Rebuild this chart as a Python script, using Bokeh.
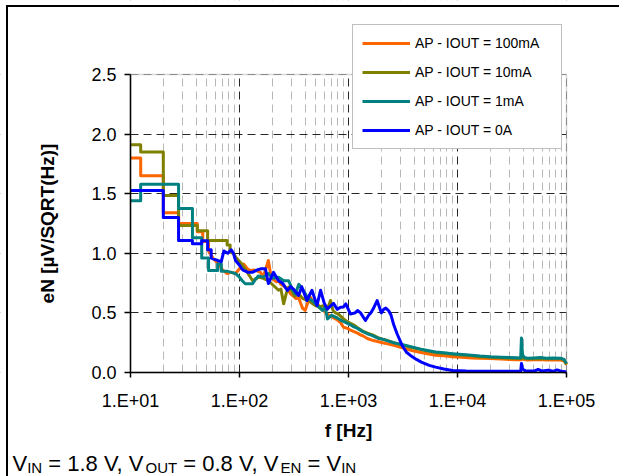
from bokeh.plotting import figure
from bokeh.models import (Range1d, FixedTicker, NumeralTickFormatter, CustomJSTickFormatter,
                          Legend, LegendItem, Label, BoxAnnotation)
from bokeh.embed import file_html
from bokeh.resources import INLINE

FONT = "Liberation Sans"

# ---------------- data (frequency [Hz], eN [uV/sqrt(Hz)]) ----------------
series_names = ["AP - IOUT = 100mA", "AP - IOUT = 10mA", "AP - IOUT = 1mA", "AP - IOUT = 0A"]
series_colors = ["#FF6600", "#808000", "#008080", "#0000FF"]

iout_100mA = [(10, 1.80), (12.4, 1.80), (12.4, 1.65), (20, 1.65), (20, 1.34), (27.6, 1.34), (27.6, 1.25),
              (41, 1.25), (41, 1.18), (46, 1.18), (46, 1.10), (52, 1.10), (52, 1.02), (58, 0.95), (63, 0.92),
              (70, 0.86), (77, 0.83), (84, 0.84), (92, 0.83), (100, 0.87), (109, 0.91), (118, 0.87),
              (126, 0.855), (136, 0.86), (146, 0.85), (156, 0.84), (165, 0.80), (173, 0.86), (184, 0.94),
              (195, 0.80), (205, 0.78), (218, 0.76), (228, 0.77), (240, 0.74), (260, 0.72), (276, 0.70),
              (294, 0.66), (313, 0.64), (330, 0.62), (348, 0.63), (364, 0.58), (379, 0.54), (400, 0.52),
              (421, 0.58), (448, 0.63), (468, 0.60), (495, 0.57), (520, 0.576), (553, 0.54), (590, 0.52),
              (642, 0.49), (684, 0.47), (728, 0.46), (790, 0.44), (845, 0.42), (900, 0.38), (980, 0.37),
              (1043, 0.355), (1110, 0.345), (1210, 0.33), (1290, 0.315), (1340, 0.31), (1490, 0.285),
              (1660, 0.27), (1845, 0.26), (2050, 0.25), (2280, 0.24), (2590, 0.228), (2900, 0.215),
              (3300, 0.20), (3800, 0.185), (4500, 0.17), (5300, 0.158), (6300, 0.145), (7500, 0.14),
              (9000, 0.132), (11000, 0.127), (13500, 0.122), (16000, 0.12), (20000, 0.117), (25000, 0.113),
              (30000, 0.11), (35000, 0.108), (38000, 0.107), (38600, 0.115), (40000, 0.11), (43900, 0.105),
              (50000, 0.106), (57700, 0.108), (65000, 0.105), (75000, 0.106), (88000, 0.104), (95000, 0.098),
              (100000, 0.065)]

iout_10mA = [(10, 1.91), (12.4, 1.91), (12.4, 1.85), (20, 1.85), (20, 1.485), (27.6, 1.485), (27.6, 1.233),
             (41, 1.233), (41, 1.19), (51, 1.19), (51, 1.107), (77, 1.107), (77, 1.07), (82, 1.07), (82, 1.01),
             (88, 1.0), (92, 0.97), (105, 0.91), (118, 0.84), (132, 0.77), (149, 0.80), (165, 0.79),
             (184, 0.77), (205, 0.73), (228, 0.69), (240, 0.70), (254, 0.576), (268, 0.66), (282, 0.716),
             (300, 0.69), (320, 0.64), (348, 0.66), (380, 0.62), (430, 0.604), (480, 0.57), (530, 0.55),
             (590, 0.56), (640, 0.53), (684, 0.604), (720, 0.52), (760, 0.50), (810, 0.49), (900, 0.45),
             (1000, 0.42), (1110, 0.40), (1210, 0.375), (1340, 0.35), (1490, 0.33), (1660, 0.315),
             (1845, 0.295), (2050, 0.28), (2280, 0.268), (2590, 0.25), (2900, 0.238), (3300, 0.225),
             (3800, 0.21), (4500, 0.195), (5300, 0.18), (6300, 0.168), (7500, 0.16), (9000, 0.152),
             (11000, 0.146), (13500, 0.14), (16000, 0.133), (20000, 0.127), (25000, 0.123), (30000, 0.12),
             (35000, 0.118), (38000, 0.117), (38600, 0.13), (40000, 0.12), (44000, 0.115), (50000, 0.115),
             (57700, 0.118), (65000, 0.115), (75000, 0.117), (88000, 0.115), (95000, 0.105), (100000, 0.07)]

iout_1mA = [(10, 1.44), (12.4, 1.44), (12.4, 1.58), (27.6, 1.58), (27.6, 1.375), (37, 1.375), (37, 1.13),
            (45, 1.13), (45, 0.96), (52, 0.96), (52, 0.855), (63, 0.855), (63, 0.91), (68, 0.91), (68, 0.85),
            (77, 0.85), (84, 0.84), (92, 0.83), (100, 0.80), (106, 0.77), (113, 0.745), (132, 0.745),
            (140, 0.78), (149, 0.81), (165, 0.80), (184, 0.83), (205, 0.79), (228, 0.80), (255, 0.77),
            (282, 0.77), (305, 0.70), (326, 0.66), (350, 0.74), (379, 0.70), (420, 0.63), (468, 0.60),
            (520, 0.56), (577, 0.52), (610, 0.55), (642, 0.45), (700, 0.48), (760, 0.465), (845, 0.44),
            (938, 0.42), (1043, 0.40), (1110, 0.385), (1210, 0.37), (1340, 0.345), (1490, 0.325),
            (1660, 0.31), (1900, 0.285), (2050, 0.28), (2300, 0.265), (2600, 0.25), (2900, 0.24),
            (3300, 0.228), (3800, 0.215), (4500, 0.198), (5300, 0.185), (6300, 0.172), (7500, 0.165),
            (9000, 0.158), (11000, 0.151), (13500, 0.145), (16000, 0.138), (20000, 0.132), (25000, 0.128),
            (30000, 0.125), (35000, 0.123), (38000, 0.122), (38600, 0.29), (39500, 0.15), (41000, 0.125),
            (44000, 0.12), (50000, 0.122), (57700, 0.125), (65000, 0.12), (75000, 0.122), (88000, 0.12),
            (95000, 0.11), (100000, 0.075)]

iout_0A = [(10, 1.527), (20, 1.527), (20, 1.30), (27.6, 1.30), (27.6, 1.107), (37, 1.107), (37, 1.08),
           (45, 1.08), (45, 1.106), (51, 1.106), (51, 1.03), (55, 1.03), (55, 0.96), (63, 0.94), (68, 0.93),
           (72, 1.02), (78, 1.0), (84, 1.03), (88, 1.0), (92, 0.94), (100, 0.90), (105, 0.87), (109, 0.856),
           (120, 0.84), (131, 0.84), (145, 0.86), (156, 0.87), (173, 0.87), (184, 0.746), (205, 0.84),
           (228, 0.77), (250, 0.746), (275, 0.688), (294, 0.72), (313, 0.70), (348, 0.646), (372, 0.72),
           (415, 0.604), (462, 0.69), (514, 0.562), (554, 0.69), (600, 0.58), (640, 0.534), (728, 0.58),
           (790, 0.53), (845, 0.548), (900, 0.55), (945, 0.576), (1043, 0.49), (1150, 0.50), (1210, 0.52),
           (1290, 0.50), (1430, 0.436), (1530, 0.48), (1600, 0.50), (1700, 0.54), (1830, 0.604),
           (1920, 0.55), (2000, 0.50), (2100, 0.53), (2200, 0.54), (2330, 0.52), (2460, 0.48), (2600, 0.40),
           (2790, 0.325), (3110, 0.226), (3400, 0.17), (3700, 0.143), (4200, 0.11), (4660, 0.087),
           (5500, 0.06), (6300, 0.045), (7500, 0.03), (8980, 0.017), (12000, 0.012), (20000, 0.01),
           (30000, 0.01), (38000, 0.01), (38600, 0.075), (39500, 0.03), (42000, 0.015), (50000, 0.012),
           (55000, 0.025), (60000, 0.012), (68000, 0.02), (75000, 0.01), (82000, 0.022), (90000, 0.01),
           (100000, 0.005)]

x_major_ticks = [10, 100, 1000, 10000, 100000]
x_minor_ticks = [m * d for d in (10, 100, 1000, 10000) for m in range(2, 10)]
y_ticks = [0.0, 0.5, 1.0, 1.5, 2.0, 2.5]
X_MIN, X_MAX = 10, 100000
Y_MIN, Y_MAX = 0.0, 2.5

x_title = "f [Hz]"
y_title = "eN [\u00b5V/SQRT(Hz)]"

# condition note: V_IN = 1.8 V, V_OUT = 0.8 V, V_EN = V_IN  (text, is_subscript, space_before)
note_parts = [("V", False, False), ("IN", True, False), ("= 1.8 V, V", False, True), ("OUT", True, False),
              ("= 0.8 V, V", False, True), ("EN", True, False), ("= V", False, True), ("IN", True, False)]

# ---------------- layout geometry (pixels on the canvas) ----------------
W, H = 619, 476
PL, PR, PT, PB = 130, 566, 74, 372           # plot area edges
px_per_decade = (PR - PL) / 4.0
px_per_unit = (PB - PT) / (Y_MAX - Y_MIN)
x_lo = 10 ** (1 - PL / px_per_decade)
x_hi = 10 ** (5 + (W - PR) / px_per_decade)
y_lo = Y_MIN - (H - PB) / px_per_unit
y_hi = Y_MAX + PT / px_per_unit

# the frame spans the whole canvas; axes sit at fixed locations inside it
p = figure(width=W, height=H, x_axis_type="log",
           x_range=Range1d(x_lo, x_hi), y_range=Range1d(y_lo, y_hi),
           output_backend="svg", toolbar_location=None,
           min_border=0, min_border_left=0, min_border_right=0, min_border_top=0, min_border_bottom=0)
p.background_fill_color = "white"
p.border_fill_color = "white"
p.outline_line_color = None

p.xaxis.ticker = FixedTicker(ticks=x_major_ticks, minor_ticks=x_minor_ticks)
p.xaxis.formatter = CustomJSTickFormatter(
    code="return '1.E+' + String(Math.round(Math.log10(tick))).padStart(2, '0');")
p.yaxis.ticker = FixedTicker(ticks=y_ticks)
p.yaxis.formatter = NumeralTickFormatter(format="0.0")
p.xaxis.bounds = (X_MIN, X_MAX)
p.yaxis.bounds = (Y_MIN, Y_MAX)
p.xaxis.fixed_location = Y_MIN
p.yaxis.fixed_location = X_MIN

for ax in (p.xaxis, p.yaxis):
    ax.axis_line_color = "black"
    ax.axis_line_width = 1.5
    ax.major_tick_line_color = "black"
    ax.major_tick_line_width = 1.5
    ax.major_tick_in = 0
    ax.minor_tick_line_color = None
    ax.major_label_text_font = FONT
    ax.major_label_text_font_size = "18px"
    ax.major_label_text_color = "black"
    ax.axis_label_text_font = FONT
    ax.axis_label_text_font_style = "bold"
    ax.axis_label_text_font_size = "19px"
    ax.axis_label_text_color = "black"

p.xaxis.major_tick_out = 5
p.xaxis.major_label_standoff = 13
p.xaxis.axis_label = x_title
p.xaxis.axis_label_standoff = 6
p.yaxis.major_tick_out = 6
p.yaxis.major_label_standoff = 8
p.yaxis.axis_label = y_title
p.yaxis.axis_label_standoff = 30

p.xgrid.grid_line_color = "black"
p.xgrid.grid_line_alpha = 0.85
p.xgrid.grid_line_dash = "8 5"
p.xgrid.minor_grid_line_color = "#b8b8b8"
p.xgrid.minor_grid_line_dash = "8 5"
p.ygrid.grid_line_color = "black"
p.ygrid.grid_line_alpha = 0.85
p.ygrid.grid_line_dash = "8 5"

# keep the grid inside the plot area: white masks outside it, then the grey plot-area border
for kw in (dict(top=Y_MIN), dict(bottom=Y_MAX), dict(right=X_MIN), dict(left=X_MAX)):
    p.add_layout(BoxAnnotation(level="underlay", fill_color="white", fill_alpha=1.0,
                               line_color=None, **kw))
p.add_layout(BoxAnnotation(level="underlay", left=X_MIN, right=X_MAX, bottom=Y_MIN, top=Y_MAX,
                           fill_alpha=0, line_color="#808080", line_width=1.5))

items = []
for name, color, data in zip(series_names, series_colors, [iout_100mA, iout_10mA, iout_1mA, iout_0A]):
    f = [d[0] for d in data]
    v = [d[1] for d in data]
    r = p.line(f, v, line_color=color, line_width=3, line_join="round")
    items.append(LegendItem(label=name, renderers=[r]))

# legend box: left 352, top 26, bottom 149 (canvas pixels)
legend = Legend(items=items, location=(352, H - 149), orientation="vertical",
                padding=9, spacing=11, margin=0,
                glyph_width=48, glyph_height=18, label_height=18, label_width=137, label_standoff=5,
                label_text_font=FONT, label_text_font_size="14px", label_text_color="black",
                border_line_color="#808080", border_line_width=1.5,
                background_fill_color="white", background_fill_alpha=1.0)
p.add_layout(legend, "center")

# outer document frame lines (top and left)
p.add_layout(BoxAnnotation(left=5.5, right=W, top=H - 4.5, bottom=H - 6.5,
                           left_units="screen", right_units="screen", top_units="screen", bottom_units="screen",
                           fill_color="black", fill_alpha=1, line_color=None))
p.add_layout(BoxAnnotation(left=5.5, right=7.5, top=H - 4.5, bottom=0,
                           left_units="screen", right_units="screen", top_units="screen", bottom_units="screen",
                           fill_color="black", fill_alpha=1, line_color=None))

# note pieces laid out left to right using Arial/Liberation advance widths
ADV = {"V": 667, "I": 278, "N": 722, "O": 778, "U": 722, "T": 611, "E": 667, " ": 278, "=": 584,
       "1": 556, ".": 278, "8": 556, "0": 556, ",": 278}
MAIN_PX, SUB_PX = 22, 15
MAIN_BASE, SUB_BASE = 462.5, 467
cx = 12.0
for txt, sub, space_before in note_parts:
    size = SUB_PX if sub else MAIN_PX
    if space_before:
        cx += ADV[" "] / 1000 * MAIN_PX
    p.add_layout(Label(x=cx, y=H - (SUB_BASE if sub else MAIN_BASE), x_units="screen", y_units="screen",
                       text=txt, text_font=FONT, text_font_size=f"{size}px",
                       text_color="black", text_baseline="alphabetic", text_align="left"))
    cx += sum(ADV[c] for c in txt) / 1000 * size

open("out.html", "w").write(file_html(p, INLINE))
